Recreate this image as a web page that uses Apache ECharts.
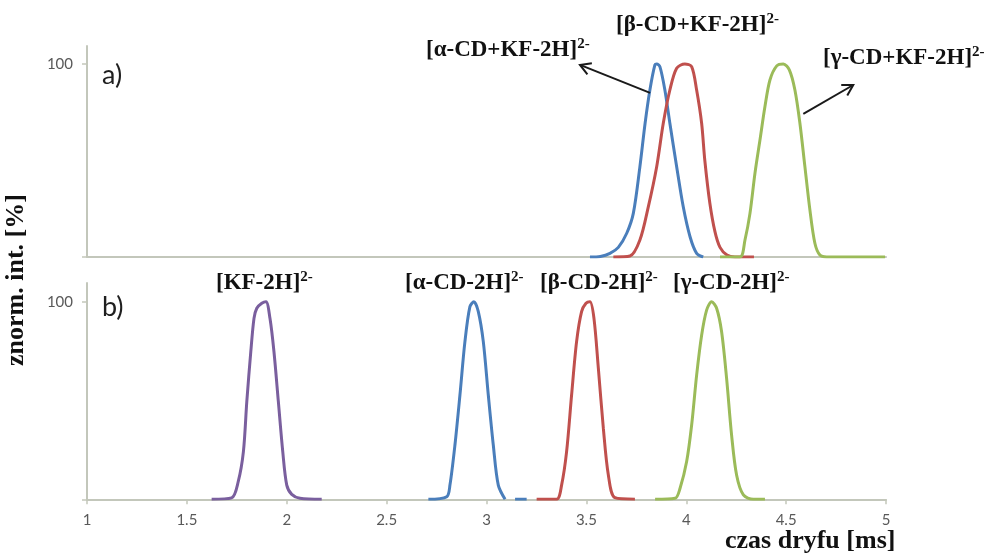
<!DOCTYPE html>
<html>
<head>
<meta charset="utf-8">
<script src="https://cdn.jsdelivr.net/npm/echarts@6/dist/echarts.min.js"></script>
<style>
  html, body { margin: 0; padding: 0; background: #ffffff; }
  #chart { width: 990px; height: 553px; }
</style>
</head>
<body>
<div id="chart"></div>
<script>
// Drift-time profiles, [drift time in ms, normalised intensity in %]
// Panel a): cyclodextrin complexes with KF
const aAlphaKF = [[3.518,0],[3.57,0.3],[3.618,1.9],[3.66,5],[3.702,12.3],[3.735,22.6],[3.768,46.8],[3.794,69.3],[3.818,86.5],[3.843,99.5],[3.852,100],[3.868,98.6],[3.893,86.5],[3.918,69.3],[3.952,46.8],[3.985,26],[4.019,10.5],[4.052,1.9],[4.085,0]];
const aBetaKF = [[3.635,0],[3.718,0.5],[3.768,8.8],[3.81,26],[3.852,46.8],[3.885,69.3],[3.918,86.5],[3.952,97.8],[3.993,100],[4.027,98.6],[4.052,86.5],[4.077,69.3],[4.093,50],[4.118,28],[4.144,13],[4.169,5],[4.204,1],[4.244,0],[4.339,0]];
const aGammaKF = [[4.169,0],[4.269,0],[4.294,8.8],[4.319,22.6],[4.344,43.4],[4.369,60.6],[4.394,77.9],[4.419,91.7],[4.453,99],[4.486,100],[4.516,96.9],[4.544,86.5],[4.569,69.3],[4.594,46.8],[4.619,24.4],[4.644,7.1],[4.669,1],[4.703,0],[4.995,0]];
// Panel b): free KF and free cyclodextrins
const bKF = [[1.624,0],[1.724,0.7],[1.757,8.9],[1.783,24.1],[1.8,49.4],[1.82,74.7],[1.836,91.6],[1.85,96.7],[1.875,99.2],[1.896,100],[1.916,91.6],[1.936,74.7],[1.958,49.4],[1.98,24.1],[2.0,7.2],[2.025,2.5],[2.066,0.5],[2.175,0]];
const bAlpha = [[2.709,0],[2.801,1.3],[2.817,7.2],[2.842,27.5],[2.867,52.8],[2.892,79.8],[2.917,97.5],[2.937,100],[2.959,95],[2.984,79.8],[3.009,52.8],[3.034,27.5],[3.059,7.2],[3.093,0],[3.118,'-'],[3.143,0],[3.201,0]];
const bBeta = [[3.251,0],[3.351,0],[3.376,7.2],[3.401,24.1],[3.426,52.8],[3.451,79.8],[3.476,95],[3.498,99.2],[3.518,100],[3.538,91.6],[3.56,66.3],[3.585,35.9],[3.61,12.3],[3.643,0.8],[3.743,0]];
const bGamma = [[3.844,0],[3.944,0.5],[3.969,5.6],[4.002,19.1],[4.027,37.6],[4.052,62.9],[4.077,83.1],[4.102,95.8],[4.127,100],[4.152,96.7],[4.177,84.8],[4.202,61.2],[4.227,32.5],[4.252,12.3],[4.286,2.2],[4.336,0],[4.394,0]];

// Axis ranges and tick labels
const xMin = 1, xMax = 5, xStep = 0.5;
const yTicks = [0, 100];
const yLabels = [100];

// Ion labels: [text, superscript]
const ionTop = [['[α-CD+KF-2H]', '2-'], ['[β-CD+KF-2H]', '2-'], ['[γ-CD+KF-2H]', '2-']];
const ionBottom = [['[KF-2H]', '2-'], ['[α-CD-2H]', '2-'], ['[β-CD-2H]', '2-'], ['[γ-CD-2H]', '2-']];

const AXIS = '#c3c7bb';
const SERIF = '"Liberation Serif", "Times New Roman", serif';
const SANS = 'Lato, "Open Sans", sans-serif';
const COLORS = { blue: '#4a7ebb', red: '#c0504d', green: '#9bbb59', purple: '#7a5f9e' };

const chart = echarts.init(document.getElementById('chart'), null, { renderer: 'canvas' });

function yAxis(gi, max) {
  return {
    gridIndex: gi, type: 'value', min: 0, max: max,
    axisLine: { show: true, lineStyle: { color: AXIS, width: 2 } },
    axisTick: { show: true, length: 5, customValues: yTicks, lineStyle: { color: AXIS, width: 1.5 } },
    axisLabel: { show: true, customValues: yLabels, color: '#595959', fontFamily: SANS, fontSize: 15, margin: 14 },
    splitLine: { show: false }
  };
}

function xAxis(gi, withLabels) {
  return {
    gridIndex: gi, type: 'value', min: xMin, max: xMax, interval: xStep,
    axisLine: { show: true, onZero: false, lineStyle: { color: AXIS, width: 2 } },
    axisTick: { show: withLabels, length: 5, lineStyle: { color: AXIS, width: 1.5 } },
    axisLabel: { show: withLabels, color: '#595959', fontFamily: SANS, fontSize: 15, margin: 13 },
    splitLine: { show: false }
  };
}

function curve(data, color, gi) {
  return {
    type: 'line', data: data, xAxisIndex: gi, yAxisIndex: gi,
    showSymbol: false, smooth: 0.3, connectNulls: false,
    lineStyle: { color: color, width: 3 }, itemStyle: { color: color },
    animation: false, z: 3
  };
}

chart.setOption({
  animation: false,
  backgroundColor: '#ffffff',
  grid: [
    { left: 87, right: 104, top: 46, height: 211 },
    { left: 87, right: 104, top: 283, height: 216.3 }
  ],
  xAxis: [xAxis(0, false), xAxis(1, true)],
  yAxis: [yAxis(0, 109.3), yAxis(1, 109.5)],
  series: [
    curve(aAlphaKF, COLORS.blue, 0),
    curve(aBetaKF, COLORS.red, 0),
    curve(aGammaKF, COLORS.green, 0),
    curve(bKF, COLORS.purple, 1),
    curve(bAlpha, COLORS.blue, 1),
    curve(bBeta, COLORS.red, 1),
    curve(bGamma, COLORS.green, 1)
  ]
});

// Annotation placement
const topLabelPos = [[426, 50], [616, 25], [823, 58]];
const bottomLabelPos = [[216, 283], [405, 283], [540, 283], [673, 283]];
// Arrows in data coordinates of panel a): [tail, head]
const arrows = [
  [[3.819, 85.0], [3.468, 99.5]],
  [[4.586, 74.1], [4.836, 89.1]]
];

const rich = {
  m: { fontSize: 23, fontWeight: 'bold', fontFamily: SERIF, fill: '#111', lineHeight: 26 },
  s: { fontSize: 15, fontWeight: 'bold', fontFamily: SERIF, fill: '#111', lineHeight: 15, verticalAlign: 'top' }
};

function ionText(label, pos) {
  return {
    type: 'text', x: pos[0], y: pos[1], z: 10,
    style: { text: '{m|' + label[0] + '}{s|' + label[1] + '}', rich: rich, align: 'left', verticalAlign: 'middle' }
  };
}

function arrowShapes(tail, head) {
  const ang = Math.atan2(head[1] - tail[1], head[0] - tail[0]);
  const L = 12, A = Math.PI / 6;
  const h1 = [head[0] - L * Math.cos(ang - A), head[1] - L * Math.sin(ang - A)];
  const h2 = [head[0] - L * Math.cos(ang + A), head[1] - L * Math.sin(ang + A)];
  return [
    { type: 'line', z: 10, shape: { x1: tail[0], y1: tail[1], x2: head[0], y2: head[1] }, style: { stroke: '#1a1a1a', lineWidth: 2 } },
    { type: 'polyline', z: 10, shape: { points: [h1, head, h2] }, style: { stroke: '#1a1a1a', lineWidth: 2, fill: null } }
  ];
}

const graphics = [];
ionTop.forEach((l, i) => graphics.push(ionText(l, topLabelPos[i])));
ionBottom.forEach((l, i) => graphics.push(ionText(l, bottomLabelPos[i])));
arrows.forEach(a => {
  const t = chart.convertToPixel({ gridIndex: 0 }, a[0]);
  const h = chart.convertToPixel({ gridIndex: 0 }, a[1]);
  arrowShapes(t, h).forEach(g => graphics.push(g));
});

// Panel letters
graphics.push({ type: 'text', x: 102, y: 75, style: { text: 'a)', font: '27px ' + SANS, fill: '#1f1f1f', verticalAlign: 'middle' } });
graphics.push({ type: 'text', x: 102, y: 307, style: { text: 'b)', font: '27px ' + SANS, fill: '#1f1f1f', verticalAlign: 'middle' } });

// Axis titles
graphics.push({
  type: 'text', x: 16, y: 280, rotation: Math.PI / 2,
  style: { text: 'znorm. int. [%]', font: 'bold 26px ' + SERIF, fill: '#111', align: 'center', verticalAlign: 'middle' }
});
graphics.push({
  type: 'text', x: 725, y: 541,
  style: { text: 'czas dryfu [ms]', font: 'bold 26px ' + SERIF, fill: '#111', align: 'left', verticalAlign: 'middle' }
});

chart.setOption({ graphic: graphics });
</script>
</body>
</html>
